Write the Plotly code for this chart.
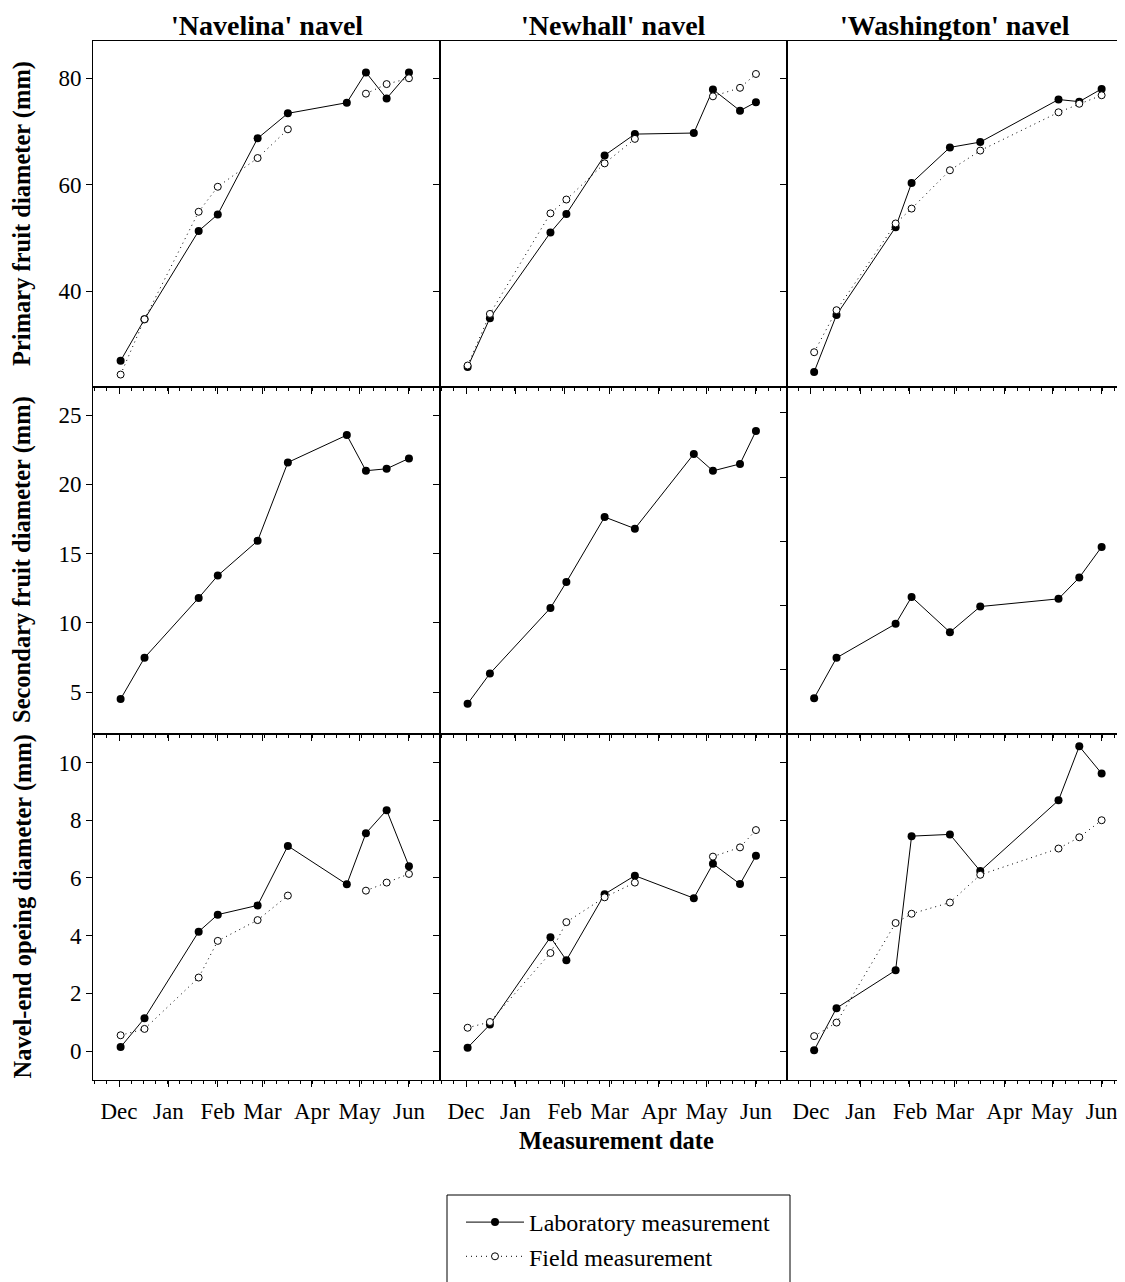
import plotly.graph_objects as go
from plotly.subplots import make_subplots

# ---------------- data ----------------
cultivars = ["'Navelina' navel", "'Newhall' navel", "'Washington' navel"]
row_titles = ["Primary fruit diameter (mm)", "Secondary fruit diameter (mm)",
              "Navel-end opeing diameter (mm)"]
month_labels = ["Dec", "Jan", "Feb", "Mar", "Apr", "May", "Jun"]

nav_dates = ["2002-12-02", "2002-12-17", "2003-01-20", "2003-02-01", "2003-02-26",
             "2003-03-17", "2003-04-23", "2003-05-05", "2003-05-18", "2003-06-01"]
new_dates = ["2002-12-02", "2002-12-16", "2003-01-23", "2003-02-02", "2003-02-26",
             "2003-03-17", "2003-04-23", "2003-05-05", "2003-05-22", "2003-06-01"]
was_dates = ["2002-12-03", "2002-12-17", "2003-01-23", "2003-02-02", "2003-02-26",
             "2003-03-17", "2003-05-05", "2003-05-18", "2003-06-01"]

# Primary fruit diameter (mm)
nav_primary_lab = [26.9, 34.7, 51.3, 54.4, 68.7, 73.4, 75.4, 81.1, 76.2, 81.1]
nav_primary_field = [24.3, 34.7, 54.9, 59.6, 65.0, 70.4, None, 77.1, 78.9, 80.0]
new_primary_lab = [25.7, 34.9, 51.0, 54.5, 65.5, 69.5, 69.7, 77.9, 73.9, 75.5]
new_primary_field = [26.0, 35.7, 54.6, 57.2, 64.0, 68.6, None, 76.6, 78.2, 80.8]
was_primary_lab = [24.8, 35.5, 52.0, 60.3, 67.0, 68.0, 76.0, 75.6, 78.0]
was_primary_field = [28.5, 36.4, 52.7, 55.5, 62.7, 66.4, 73.6, 75.2, 76.8]

# Secondary fruit diameter (mm)
nav_secondary_lab = [4.50, 7.48, 11.80, 13.41, 15.92, 21.58, 23.55, 20.98, 21.12, 21.87]
new_secondary_lab = [4.16, 6.34, 11.07, 12.94, 17.64, 16.80, 22.19, 20.97, 21.47, 23.85]
was_secondary_lab = [2.77, 5.91, 8.56, 10.66, 7.91, 9.91, 10.51, 12.17, 14.56]

# Navel-end opening diameter (mm)
nav_navel_lab = [0.14, 1.14, 4.14, 4.73, 5.05, 7.11, 5.78, 7.55, 8.35, 6.41]
nav_navel_field = [0.55, 0.77, 2.55, 3.82, 4.54, 5.39, None, 5.56, 5.84, 6.14]
new_navel_lab = [0.12, 0.92, 3.95, 3.15, 5.44, 6.08, 5.30, 6.49, 5.79, 6.77]
new_navel_field = [0.81, 1.01, 3.40, 4.47, 5.33, 5.84, None, 6.74, 7.06, 7.66]
was_navel_lab = [0.03, 1.49, 2.80, 7.45, 7.51, 6.24, 8.69, 10.56, 9.62]
was_navel_field = [0.52, 0.99, 4.44, 4.76, 5.15, 6.11, 7.02, 7.41, 8.00]

dates = [nav_dates, new_dates, was_dates]
lab = [
    [nav_primary_lab, new_primary_lab, was_primary_lab],
    [nav_secondary_lab, new_secondary_lab, was_secondary_lab],
    [nav_navel_lab, new_navel_lab, was_navel_lab],
]
field = [
    [nav_primary_field, new_primary_field, was_primary_field],
    [None, None, None],
    [nav_navel_field, new_navel_field, was_navel_field],
]

# ---------------- figure ----------------
# The page places the figure 8 px in from the window corner, so lay out
# in window pixels and subtract that offset.
OFF = 8
W, H = 1125, 1282
PL, PR, PT, PB = 93, 1122, 41, 1080           # plot area in window pixels
ML, MT = PL - OFF, PT - OFF
MR, MB = W - (PR - OFF), H - (PB - OFF)
PW, PH = PR - PL, PB - PT

fig = make_subplots(rows=3, cols=3, horizontal_spacing=0, vertical_spacing=0,
                    column_widths=[347, 347, 335])

FONT = "Liberation Serif, Times New Roman, serif"

for r in range(3):
    for c in range(3):
        x = dates[c]
        first = (r == 0 and c == 0)
        fig.add_trace(go.Scatter(
            x=x, y=lab[r][c], mode="lines+markers",
            name="Laboratory measurement", showlegend=first,
            line=dict(color="black", width=1),
            marker=dict(symbol="circle", size=8, color="black"),
        ), row=r + 1, col=c + 1)
        if field[r][c] is not None:
            fig.add_trace(go.Scatter(
                x=x, y=field[r][c], mode="lines+markers",
                name="Field measurement", showlegend=first,
                line=dict(color="black", width=1, dash="1px,4px"),
                marker=dict(symbol="circle", size=7, color="white",
                            line=dict(color="black", width=1)),
            ), row=r + 1, col=c + 1)

xranges = [["2002-11-14 16:00", "2003-06-20 12:00"],
           ["2002-11-14 16:00", "2003-06-20 12:00"],
           ["2002-11-16 00:00", "2003-06-13 18:00"]]
yranges = [[[21.9, 87.0]] * 3,
           [[2.0, 27.0], [2.0, 27.0], [0.0, 27.0]],
           [[-1.0, 11.0]] * 3]
ydticks = [20, 5, 2]

for r in range(3):
    for c in range(3):
        fig.update_xaxes(
            row=r + 1, col=c + 1, type="date", range=xranges[c],
            tickmode="linear", tick0="2002-12-01", dtick="M1", tickformat="%b",
            showticklabels=(r == 2), ticks="outside", ticklen=6, tickwidth=1,
            tickcolor="black", showline=True, linecolor="black", linewidth=1,
            mirror=True, showgrid=False, zeroline=False, ticklabelstandoff=4,
            minor=dict(ticks="outside", ticklen=3, tickcolor="black",
                       dtick=86400000 * 7.6, tick0="2002-12-01", showgrid=False),
            tickfont=dict(family=FONT, size=23, color="black"),
        )
        fig.update_yaxes(
            row=r + 1, col=c + 1, range=yranges[r][c],
            tickmode="linear", tick0=0, dtick=ydticks[r],
            showticklabels=(c == 0), ticks="outside", ticklen=6, tickwidth=1,
            tickcolor="black", showline=True, linecolor="black", linewidth=1,
            mirror=True, showgrid=False, zeroline=False,
            tickfont=dict(family=FONT, size=23, color="black"),
        )

def px_x(p):
    return (p - PL) / PW

def px_y(p):
    return (PB - p) / PH

annotations = []
col_centers = [93 + 347 / 2, 440 + 347 / 2, 787 + 335 / 2]
for c in range(3):
    annotations.append(dict(
        text="<b>%s</b>" % cultivars[c], xref="paper", yref="paper",
        x=px_x(col_centers[c]), y=px_y(25), xanchor="center", yanchor="middle",
        showarrow=False, font=dict(family=FONT, size=28, color="black")))
row_centers = [41 + 346 / 2, 387 + 346 / 2, 733 + 347 / 2]
for r in range(3):
    annotations.append(dict(
        text="<b>%s</b>" % row_titles[r], xref="paper", yref="paper",
        x=px_x(22), y=px_y(row_centers[r]), xanchor="center", yanchor="middle",
        textangle=-90, showarrow=False,
        font=dict(family=FONT, size=24.5, color="black")))
annotations.append(dict(
    text="<b>Measurement date</b>", xref="paper", yref="paper",
    x=px_x(616), y=px_y(1140), xanchor="center", yanchor="middle",
    showarrow=False, font=dict(family=FONT, size=24.5, color="black")))

fig.add_shape(type="rect", xref="paper", yref="paper",
              x0=px_x(447), x1=px_x(790), y0=px_y(1195), y1=px_y(1310),
              line=dict(color="black", width=1), fillcolor="rgba(0,0,0,0)")

fig.update_layout(
    width=W, height=H,
    margin=dict(l=ML, r=MR, t=MT, b=MB, autoexpand=False),
    paper_bgcolor="white", plot_bgcolor="white",
    annotations=annotations,
    font=dict(family=FONT, color="black"),
    legend=dict(
        x=px_x(461), y=px_y(1200), xanchor="left", yanchor="top",
        bgcolor="rgba(0,0,0,0)", borderwidth=0, itemwidth=58,
        font=dict(family=FONT, size=24, color="black"),
        tracegroupgap=0,
    ),
)

fig.write_html("out.html")
